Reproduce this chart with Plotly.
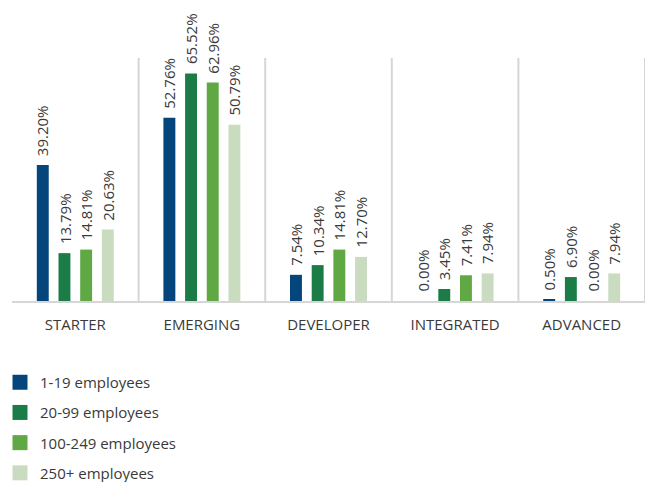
import plotly.graph_objects as go

# Maturity stages and company-size bands
stages = ["STARTER", "EMERGING", "DEVELOPER", "INTEGRATED", "ADVANCED"]
sizes = ["1-19 employees", "20-99 employees", "100-249 employees", "250+ employees"]

# Share of companies (%) in each stage, per size band
pct_1_19 = [39.20, 52.76, 7.54, 0.00, 0.50]
pct_20_99 = [13.79, 65.52, 10.34, 3.45, 6.90]
pct_100_249 = [14.81, 62.96, 14.81, 7.41, 0.00]
pct_250_plus = [20.63, 50.79, 12.70, 7.94, 7.94]

series = [pct_1_19, pct_20_99, pct_100_249, pct_250_plus]
colors = ["#04457c", "#1c7c48", "#5fa843", "#cadcbf"]

FONT = "Open Sans"
TEXT = "#3a3a3a"
BARGAP = 0.315
GROUPGAP = 0.45

fig = go.Figure()

for name, vals, col in zip(sizes, series, colors):
    fig.add_trace(go.Bar(
        x=stages, y=vals, name=name, marker=dict(color=col, line=dict(width=0)),
        showlegend=False, hoverinfo="skip",
    ))
    # square legend swatch
    fig.add_trace(go.Scatter(
        x=[None], y=[None], mode="markers", name=name, legendgroup=name,
        marker=dict(symbol="square", size=15, color=col),
    ))

# value labels rotated above each bar
slot = (1 - BARGAP) / len(series)
for k, vals in enumerate(series):
    offset = (k - (len(series) - 1) / 2) * slot
    for i, v in enumerate(vals):
        fig.add_annotation(
            x=i + offset, y=v, xref="x", yref="y",
            text=f"{v:.2f}%", textangle=-90, showarrow=False,
            xanchor="center", yanchor="bottom", yshift=7,
            font=dict(family=FONT, size=15, color=TEXT),
        )

# separators between stages
for i in range(len(stages)):
    fig.add_shape(
        type="line", xref="x", yref="paper", x0=i + 0.5, x1=i + 0.5, y0=0, y1=1,
        line=dict(color="#d6d6d6", width=2), layer="below",
    )

fig.update_layout(
    width=645, height=482,
    margin=dict(l=12, r=0, t=58, b=181, autoexpand=False),
    paper_bgcolor="white", plot_bgcolor="white",
    barmode="group", bargap=BARGAP, bargroupgap=GROUPGAP,
    font=dict(family=FONT, size=15, color=TEXT),
    xaxis=dict(
        type="category", range=[-0.5, 4.5], showgrid=False, zeroline=False,
        showline=True, linecolor="#d6d6d6", linewidth=2,
        ticks="", ticklabelstandoff=9,
        tickfont=dict(family=FONT, size=15, color=TEXT),
    ),
    yaxis=dict(range=[0, 70], visible=False, fixedrange=True),
    legend=dict(
        orientation="v", xref="container", yref="container",
        x=0.0, y=1 - 366 / 482, xanchor="left", yanchor="top",
        font=dict(family=FONT, size=15, color=TEXT),
        tracegroupgap=7.7, bgcolor="rgba(0,0,0,0)",
    ),
)

fig.write_html("out.html")
